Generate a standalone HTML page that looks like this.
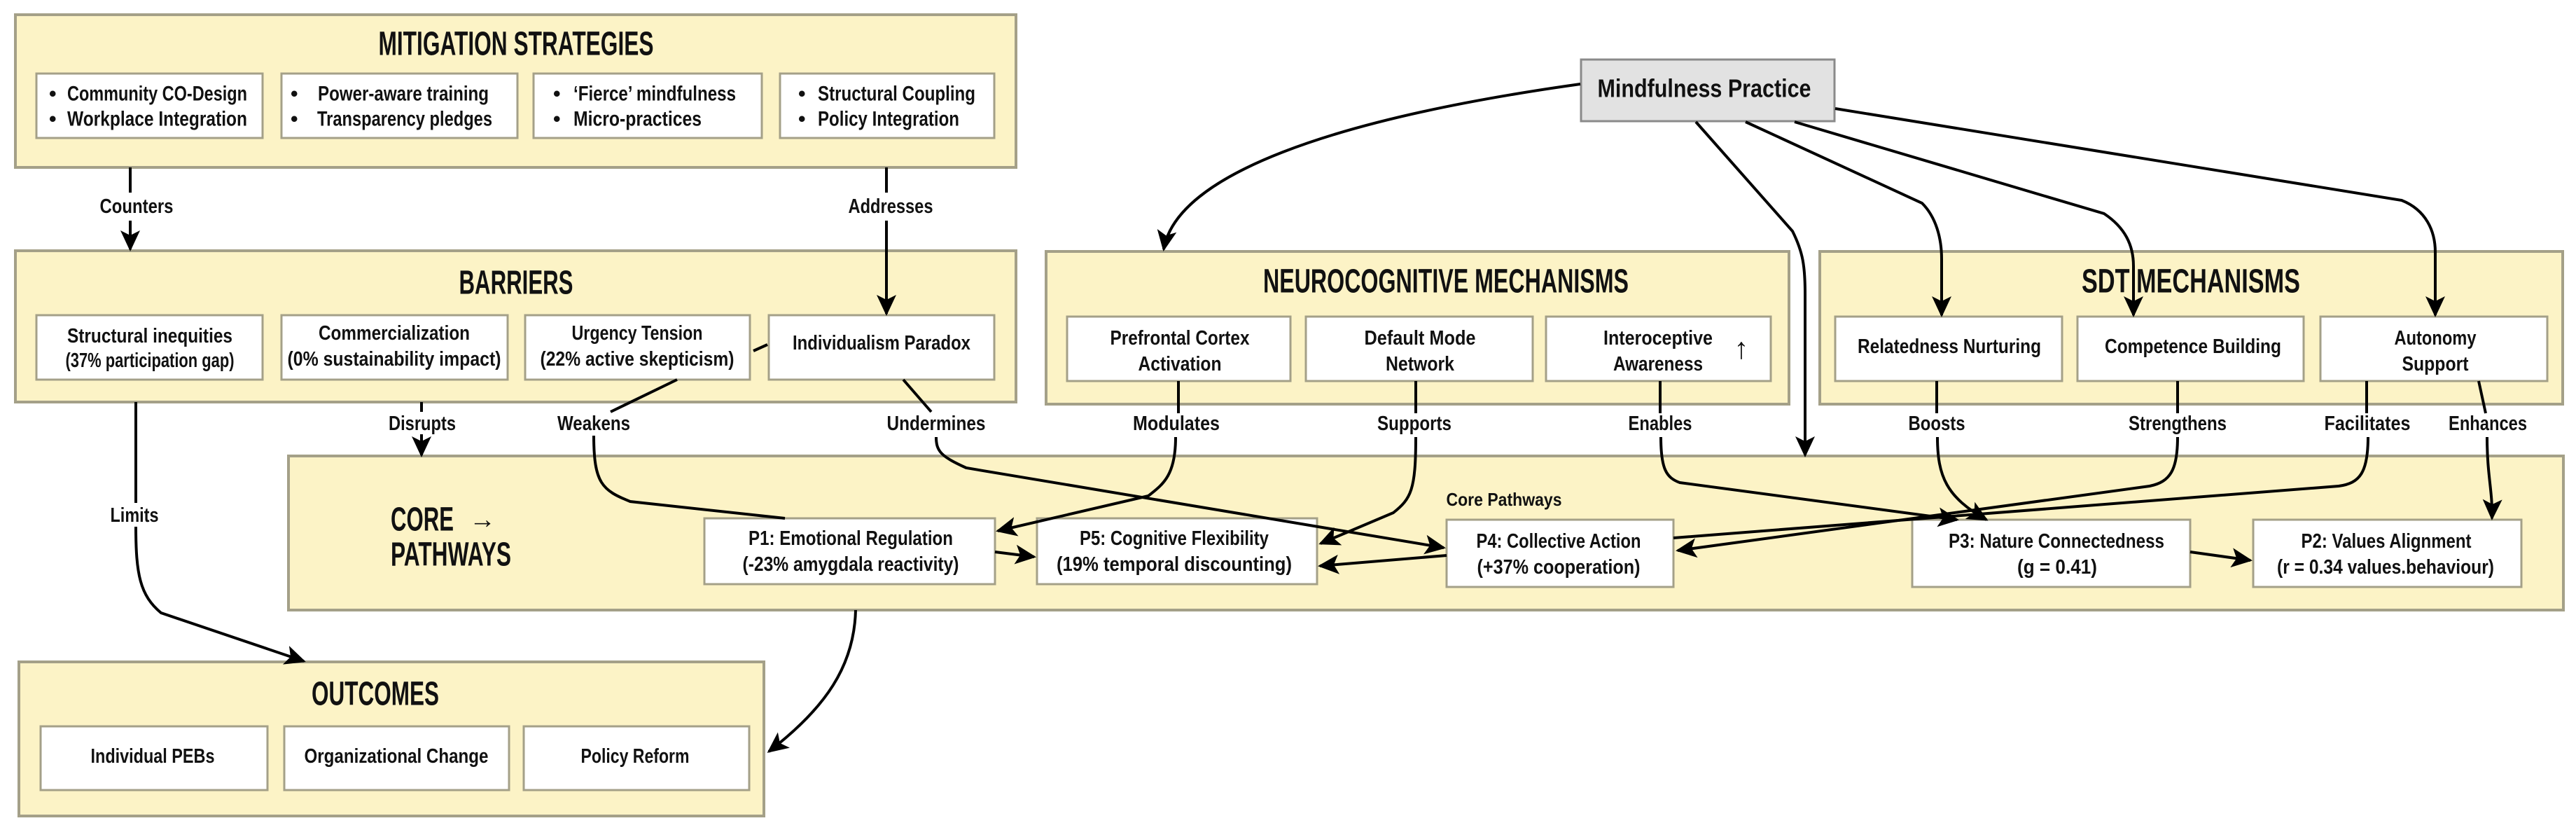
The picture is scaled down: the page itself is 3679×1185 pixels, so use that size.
<!DOCTYPE html>
<html><head><meta charset="utf-8"><style>
html,body{margin:0;padding:0;background:#fff;width:3679px;height:1185px;overflow:hidden}
svg text{font-family:"Liberation Sans Narrow","Liberation Sans",sans-serif;font-weight:bold;fill:#111}
</style></head><body>
<svg width="3679" height="1185" viewBox="0 0 3679 1185" xmlns="http://www.w3.org/2000/svg">
<defs>
<marker id="b" markerWidth="30" markerHeight="30" refX="27" refY="15" orient="auto" markerUnits="userSpaceOnUse" viewBox="0 0 30 30">
<path d="M0,1 L30,15 L0,29 L7,15 z" fill="#000"/></marker>
</defs>
<g stroke="#a4a088" stroke-width="4" fill="#fcf3c6">
<rect x="22" y="21" width="1429" height="218"/>
<rect x="22" y="358" width="1429" height="216"/>
<rect x="1494" y="359" width="1061" height="218"/>
<rect x="2599" y="359" width="1061" height="218"/>
<rect x="412" y="651" width="3249" height="220"/>
<rect x="27" y="945" width="1064" height="220"/>
</g>
<g stroke="#a4a088" stroke-width="3" fill="#fff">
<rect x="52" y="105" width="323" height="92"/><rect x="402" y="105" width="337" height="92"/>
<rect x="762" y="105" width="326" height="92"/><rect x="1114" y="105" width="306" height="92"/>
<rect x="52" y="450" width="323" height="92"/><rect x="402" y="450" width="323" height="92"/>
<rect x="750" y="450" width="321" height="92"/><rect x="1098" y="450" width="322" height="92"/>
<rect x="1524" y="452" width="319" height="92"/><rect x="1865" y="452" width="324" height="92"/>
<rect x="2208" y="452" width="321" height="92"/>
<rect x="2621" y="452" width="324" height="92"/><rect x="2967" y="452" width="323" height="92"/>
<rect x="3314" y="452" width="324" height="92"/>
<rect x="1006" y="740" width="415" height="94"/><rect x="1481" y="740" width="400" height="94"/>
<rect x="2066" y="742" width="324" height="96"/><rect x="2731" y="742" width="397" height="96"/>
<rect x="3218" y="742" width="383" height="96"/>
<rect x="58" y="1037" width="324" height="91"/><rect x="406" y="1037" width="321" height="91"/>
<rect x="748" y="1037" width="322" height="91"/>
<rect x="2258" y="85" width="362" height="88" fill="#e2e2e2" stroke="#8a8a8a"/>
</g>
<g fill="none" stroke="#000" stroke-width="4">
<path d="M186 239 V275"/><path d="M186 315 V356" marker-end="url(#b)"/>
<path d="M1266 239 V275"/><path d="M1266 315 V448" marker-end="url(#b)"/>
<path d="M2257 120 C1900 170 1680 250 1662 356" marker-end="url(#b)"/>
<path d="M2422 174 L2560 330 C2575 360 2578 380 2578 420 L2578 650" marker-end="url(#b)"/>
<path d="M2493 174 L2745 290 C2765 310 2773 340 2773 370 L2773 450" marker-end="url(#b)"/>
<path d="M2563 174 L3005 305 C3035 325 3047 350 3047 380 L3047 450" marker-end="url(#b)"/>
<path d="M2621 155 L3430 286 C3465 300 3478 330 3478 360 L3478 450" marker-end="url(#b)"/>
<path d="M602 574 V588"/><path d="M602 620 V650" marker-end="url(#b)"/>
<path d="M967 542 L872 588"/><path d="M848 622 C848 690 860 700 900 716 L1121 740"/>
<path d="M1290 542 L1330 588"/><path d="M1337 624 C1337 645 1345 652 1380 668 L2062 782" marker-end="url(#b)"/>
<path d="M1076 501 L1096 492"/>
<path d="M1683 544 V590"/><path d="M1679 624 C1679 680 1660 692 1640 708 L1425 758" marker-end="url(#b)"/>
<path d="M2022 544 V590"/><path d="M2022 624 C2022 700 2015 712 1990 732 L1886 776" marker-end="url(#b)"/>
<path d="M2371 544 V590"/><path d="M2372 624 C2372 670 2380 682 2399 689 L2795 742" marker-end="url(#b)"/>
<path d="M2766 544 V590"/><path d="M2767 624 C2767 680 2780 710 2837 742" marker-end="url(#b)"/>
<path d="M3110 544 V590"/><path d="M3110 624 C3110 670 3100 688 3070 694 L2396 786" marker-end="url(#b)"/>
<path d="M3380 544 V590"/><path d="M3382 624 C3382 675 3370 690 3340 694 L2390 768"/>
<path d="M3540 544 L3550 590"/><path d="M3552 624 C3552 680 3560 700 3559 740" marker-end="url(#b)"/>
<path d="M1421 788 L1477 795" marker-end="url(#b)"/>
<path d="M2066 793 L1885 808" marker-end="url(#b)"/>
<path d="M3128 788 L3214 800" marker-end="url(#b)"/>
<path d="M194 574 V718"/><path d="M194 752 C194 820 200 850 230 875 L434 944" marker-end="url(#b)"/>
<path d="M1222 871 C1220 950 1180 1010 1098 1073" marker-end="url(#b)"/>
</g>
<g text-anchor="middle" dominant-baseline="central">
<text x="737" y="63" font-size="48" textLength="393" lengthAdjust="spacingAndGlyphs">MITIGATION STRATEGIES</text>
<text x="737" y="404" font-size="48" textLength="163" lengthAdjust="spacingAndGlyphs">BARRIERS</text>
<text x="2065" y="402" font-size="48" textLength="522" lengthAdjust="spacingAndGlyphs">NEUROCOGNITIVE MECHANISMS</text>
<text x="3129" y="402" font-size="48" textLength="312" lengthAdjust="spacingAndGlyphs">SDT MECHANISMS</text>
<text x="536" y="991" font-size="48" textLength="182" lengthAdjust="spacingAndGlyphs">OUTCOMES</text>
<text x="2434" y="126" font-size="36" textLength="305" lengthAdjust="spacingAndGlyphs">Mindfulness Practice</text>
</g>
<g font-size="30" dominant-baseline="central">
<text x="70" y="134">•</text><text x="70" y="170">•</text>
<text x="96" y="134" textLength="257" lengthAdjust="spacingAndGlyphs">Community CO-Design</text>
<text x="96" y="170" textLength="257" lengthAdjust="spacingAndGlyphs">Workplace Integration</text>
<text x="415" y="134">•</text><text x="415" y="170">•</text>
<text x="454" y="134" textLength="244" lengthAdjust="spacingAndGlyphs">Power-aware training</text>
<text x="453" y="170" textLength="250" lengthAdjust="spacingAndGlyphs">Transparency pledges</text>
<text x="790" y="134">•</text><text x="790" y="170">•</text>
<text x="819" y="134" textLength="232" lengthAdjust="spacingAndGlyphs">‘Fierce’ mindfulness</text>
<text x="819" y="170" textLength="183" lengthAdjust="spacingAndGlyphs">Micro-practices</text>
<text x="1140" y="134">•</text><text x="1140" y="170">•</text>
<text x="1168" y="134" textLength="225" lengthAdjust="spacingAndGlyphs">Structural Coupling</text>
<text x="1168" y="170" textLength="202" lengthAdjust="spacingAndGlyphs">Policy Integration</text>
</g>
<g font-size="29" text-anchor="middle" dominant-baseline="central">
<text x="214" y="480" textLength="236" lengthAdjust="spacingAndGlyphs">Structural inequities</text>
<text x="214" y="515" textLength="241" lengthAdjust="spacingAndGlyphs">(37% participation gap)</text>
<text x="563" y="476" textLength="216" lengthAdjust="spacingAndGlyphs">Commercialization</text>
<text x="563" y="513" textLength="305" lengthAdjust="spacingAndGlyphs">(0% sustainability impact)</text>
<text x="910" y="476" textLength="187" lengthAdjust="spacingAndGlyphs">Urgency Tension</text>
<text x="910" y="513" textLength="277" lengthAdjust="spacingAndGlyphs">(22% active skepticism)</text>
<text x="1259" y="490" textLength="254" lengthAdjust="spacingAndGlyphs">Individualism Paradox</text>
<text x="1685" y="483" textLength="199" lengthAdjust="spacingAndGlyphs">Prefrontal Cortex</text>
<text x="1685" y="520" textLength="119" lengthAdjust="spacingAndGlyphs">Activation</text>
<text x="2028" y="483" textLength="159" lengthAdjust="spacingAndGlyphs">Default Mode</text>
<text x="2028" y="520" textLength="98" lengthAdjust="spacingAndGlyphs">Network</text>
<text x="2368" y="483" textLength="156" lengthAdjust="spacingAndGlyphs">Interoceptive</text>
<text x="2368" y="520" textLength="128" lengthAdjust="spacingAndGlyphs">Awareness</text>
<text x="2487" y="497" font-size="42">↑</text>
<text x="2784" y="495" textLength="262" lengthAdjust="spacingAndGlyphs">Relatedness Nurturing</text>
<text x="3132" y="495" textLength="252" lengthAdjust="spacingAndGlyphs">Competence Building</text>
<text x="3478" y="483" textLength="117" lengthAdjust="spacingAndGlyphs">Autonomy</text>
<text x="3478" y="520" textLength="95" lengthAdjust="spacingAndGlyphs">Support</text>
<text x="1215" y="769" textLength="292" lengthAdjust="spacingAndGlyphs">P1: Emotional Regulation</text>
<text x="1215" y="806" textLength="309" lengthAdjust="spacingAndGlyphs">(-23% amygdala reactivity)</text>
<text x="1677" y="769" textLength="270" lengthAdjust="spacingAndGlyphs">P5: Cognitive Flexibility</text>
<text x="1677" y="806" textLength="336" lengthAdjust="spacingAndGlyphs">(19%  temporal discounting)</text>
<text x="2226" y="773" textLength="235" lengthAdjust="spacingAndGlyphs">P4: Collective Action</text>
<text x="2226" y="810" textLength="233" lengthAdjust="spacingAndGlyphs">(+37% cooperation)</text>
<text x="2937" y="773" textLength="308" lengthAdjust="spacingAndGlyphs">P3: Nature Connectedness</text>
<text x="2938" y="810" textLength="114" lengthAdjust="spacingAndGlyphs">(g = 0.41)</text>
<text x="3408" y="773" textLength="243" lengthAdjust="spacingAndGlyphs">P2: Values Alignment</text>
<text x="3407" y="810" textLength="310" lengthAdjust="spacingAndGlyphs">(r = 0.34 values.behaviour)</text>
<text x="218" y="1080" textLength="177" lengthAdjust="spacingAndGlyphs">Individual PEBs</text>
<text x="566" y="1080" textLength="263" lengthAdjust="spacingAndGlyphs">Organizational Change</text>
<text x="907" y="1080" textLength="155" lengthAdjust="spacingAndGlyphs">Policy Reform</text>
<text x="2148" y="713" font-size="26" textLength="165" lengthAdjust="spacingAndGlyphs">Core Pathways</text>
<text x="195" y="295" textLength="105" lengthAdjust="spacingAndGlyphs">Counters</text>
<text x="1272" y="295" textLength="121" lengthAdjust="spacingAndGlyphs">Addresses</text>
<text x="603" y="605" textLength="96" lengthAdjust="spacingAndGlyphs">Disrupts</text>
<text x="848" y="605" textLength="104" lengthAdjust="spacingAndGlyphs">Weakens</text>
<text x="1337" y="605" textLength="141" lengthAdjust="spacingAndGlyphs">Undermines</text>
<text x="1680" y="605" textLength="124" lengthAdjust="spacingAndGlyphs">Modulates</text>
<text x="2020" y="605" textLength="106" lengthAdjust="spacingAndGlyphs">Supports</text>
<text x="2371" y="605" textLength="91" lengthAdjust="spacingAndGlyphs">Enables</text>
<text x="2766" y="605" textLength="81" lengthAdjust="spacingAndGlyphs">Boosts</text>
<text x="3110" y="605" textLength="140" lengthAdjust="spacingAndGlyphs">Strengthens</text>
<text x="3381" y="605" textLength="123" lengthAdjust="spacingAndGlyphs">Facilitates</text>
<text x="3553" y="605" textLength="112" lengthAdjust="spacingAndGlyphs">Enhances</text>
<text x="192" y="736" textLength="69" lengthAdjust="spacingAndGlyphs">Limits</text>
</g>
<g font-size="48" dominant-baseline="central">
<text x="558" y="742" textLength="90" lengthAdjust="spacingAndGlyphs">CORE</text>
<text x="670" y="742" font-size="38">→</text>
<text x="558" y="792" textLength="172" lengthAdjust="spacingAndGlyphs">PATHWAYS</text>
</g>
</svg>
</body></html>
